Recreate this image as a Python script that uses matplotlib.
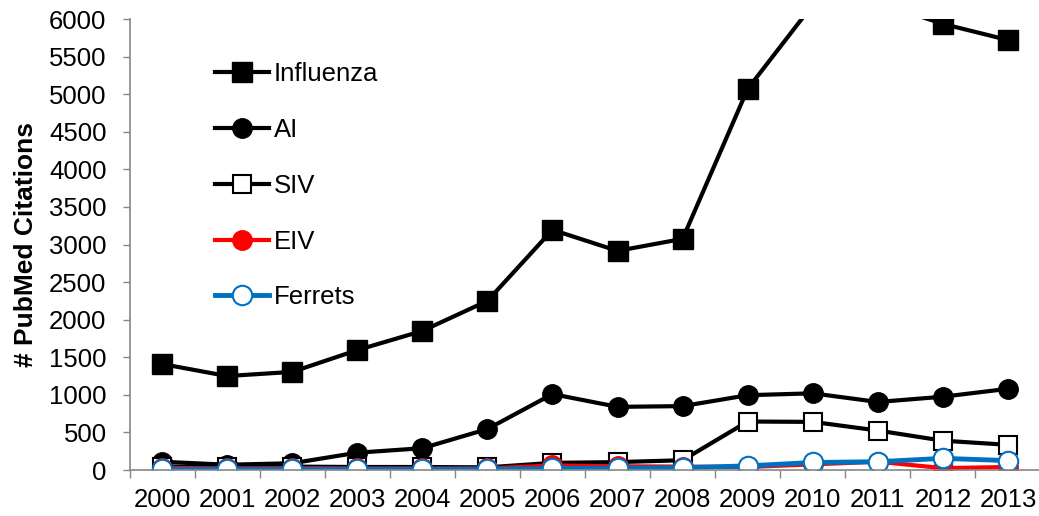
import matplotlib
matplotlib.use("Agg")
import matplotlib.pyplot as plt
import numpy as np

years = ["2000", "2001", "2002", "2003", "2004", "2005", "2006",
         "2007", "2008", "2009", "2010", "2011", "2012", "2013"]
influenza = [1410, 1250, 1305, 1595, 1850, 2250, 3195, 2915, 3075, 5070, 6190, 6220, 5935, 5720]
ai = [110, 70, 90, 230, 290, 545, 1010, 840, 850, 995, 1020, 905, 975, 1080]
siv = [45, 40, 45, 40, 40, 35, 95, 105, 130, 645, 640, 525, 390, 335]
eiv = [30, 20, 25, 20, 20, 20, 60, 50, 45, 40, 75, 110, 25, 40]
ferrets = [10, 10, 10, 10, 10, 10, 20, 25, 30, 55, 100, 110, 155, 125]

plt.rcParams['font.family'] = ['Liberation Sans', 'DejaVu Sans']

fig = plt.figure(figsize=(10.39, 5.16), dpi=100)
ax = fig.add_axes([129.5 / 1039, 46 / 516, 911 / 1039, 451 / 516])

x = np.arange(len(years))
gray = "#868686"

ax.plot(x, influenza, color="black", lw=3, marker="s", ms=14, mfc="black", mec="black", label="Influenza")
ax.plot(x, ai, color="black", lw=3, marker="o", ms=14, mfc="black", mec="black", label="AI")
ax.plot(x, siv, color="black", lw=3, marker="s", ms=13, mfc="white", mec="black", mew=1.5, label="SIV")
ax.plot(x, eiv, color="#FF0000", lw=3, marker="o", ms=14, mfc="#FF0000", mec="#FF0000", label="EIV")
ax.plot(x, ferrets, color="#0070C0", lw=3.5, marker="o", ms=14, mfc="white", mec="#0070C0", mew=1.5, label="Ferrets")

ax.set_xlim(-0.5, len(years) - 0.5)
ax.set_ylim(0, 6000)
ax.set_yticks(np.arange(0, 6001, 500))
ax.tick_params(axis="y", labelsize=18.5, length=5, width=1, color=gray, pad=11.5, direction="out")

ax.set_xticks(np.arange(-0.5, len(years), 1.0))
ax.set_xticklabels([])
ax.set_xticks(x, minor=True)
ax.set_xticklabels(years, minor=True)
ax.tick_params(axis="x", which="major", length=5.5, width=1, color=gray, direction="out")
ax.tick_params(axis="x", which="minor", length=0, labelsize=18.5, pad=13)

for s in ["top", "right"]:
    ax.spines[s].set_visible(False)
for s in ["left", "bottom"]:
    ax.spines[s].set_color(gray)
    ax.spines[s].set_linewidth(1.2)

ax.set_ylabel("# PubMed Citations", fontsize=19, fontweight="bold", labelpad=8)

leg = ax.legend(loc="upper left", bbox_to_anchor=(215 / 1039, 1 - 62 / 516), bbox_transform=fig.transFigure,
                frameon=False, fontsize=18.5, handlelength=2.1, handletextpad=0.2,
                labelspacing=1.24, borderpad=0, borderaxespad=0)

fig.savefig("out.png", dpi=100)
